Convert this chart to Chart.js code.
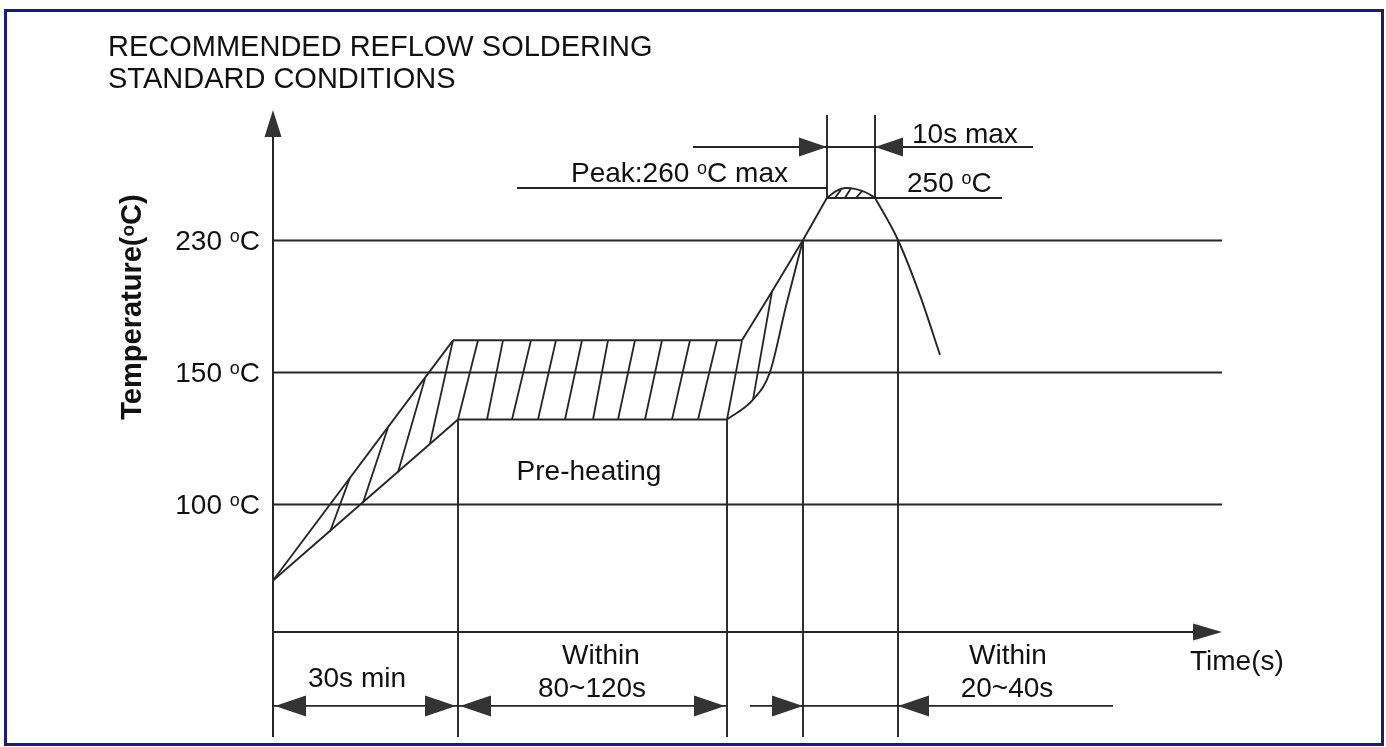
<!DOCTYPE html>
<html>
<head>
<meta charset="utf-8">
<title>Recommended reflow soldering profile</title>
<script src="https://cdn.jsdelivr.net/npm/chart.js@4.4.1/dist/chart.umd.min.js"></script>
<style>
  html, body { margin: 0; padding: 0; background: #fff; }
  #wrap { position: relative; width: 1386px; height: 747px; }
</style>
</head>
<body>
<div id="wrap"><canvas id="reflowChart"></canvas></div>
<script>
const ctx = document.getElementById('reflowChart').getContext('2d');

// the temperature axis is schematic: one level per labelled temperature
const tickLevels = [1, 2, 3];
const tickLabels = ['100 °C', '150 °C', '230 °C'];

// profile outline as [time, level]
const rampUpper = [[0, 0.42], [36, 2.24]];
const rampLower = [[0, 0.42], [37, 1.64]];
const soakUpper = [[36, 2.24], [93.8, 2.24]];
const soakLower = [[37, 1.64], [90.8, 1.64]];
const riseUpper = [[93.8, 2.24], [99.8, 2.61], [106, 3], [110.8, 3.32]];
const riseLower = [[90.8, 1.64], [96, 1.79], [99.4, 2.0], [102.6, 2.5], [106, 3]];
const peakCap = [[110.8, 3.32], [112.6, 3.37], [114.6, 3.394], [116.6, 3.385], [118.6, 3.36], [120.4, 3.32]];
const cooling = [[120.4, 3.32], [125, 3], [129.4, 2.58], [133.4, 2.13]];

// hatching inside the window, [x1, y1, x2, y2]
const hatchRamp = [[11.4, 0.79, 15.4, 1.2], [18, 1.01, 23, 1.58], [25, 1.24, 30.4, 1.95], [31.4, 1.46, 36, 2.24]];
const hatchSoakBottom = [37, 42.8, 47.8, 53, 58.4, 64, 69, 74.4, 79.8, 85, 90.8];
const hatchSoakTop = [41, 46, 51.6, 56.6, 61.8, 67, 72.4, 77.8, 83.4, 88.8, 93.8];
const hatchRise = [[96, 1.79, 99.8, 2.61]];
const hatchPeak = [[112.4, 3.32, 113.6, 3.38], [114.4, 3.32, 115.6, 3.392], [116.6, 3.32, 117.8, 3.37]];

// guide and dimension lines
const guides = [[37, 1.64, 37, -0.765], [90.8, 1.64, 90.8, -0.765], [106, 3, 106, -0.765], [125, 3, 125, -0.765],
  [110.8, 3.32, 110.8, 3.947], [120.4, 3.32, 120.4, 3.947]];
const refLines = [[48.8, 3.394, 110.8, 3.394], [110.8, 3.318, 145.8, 3.318]];
const dimLines = [[84, 3.705, 152, 3.705], [0, -0.53, 37, -0.53], [37, -0.53, 90.8, -0.53], [95.4, -0.53, 168, -0.53]];

const arrowTips = [
  { x: 110.8, y: 3.705, dir: 1 }, { x: 120.4, y: 3.705, dir: -1 },
  { x: 0.4, y: -0.53, dir: -1 }, { x: 36.6, y: -0.53, dir: 1 },
  { x: 37.4, y: -0.53, dir: -1 }, { x: 90.4, y: -0.53, dir: 1 },
  { x: 106, y: -0.53, dir: 1 }, { x: 125, y: -0.53, dir: -1 }
];

const notes = [
  { text: 'Pre-heating', x: 63.2, y: 1.26, align: 'center' },
  { text: '30s min', x: 16.8, y: -0.31, align: 'center' },
  { text: 'Within', x: 65.6, y: -0.14, align: 'center' },
  { text: '80~120s', x: 63.8, y: -0.39, align: 'center' },
  { text: 'Within', x: 147, y: -0.14, align: 'center' },
  { text: '20~40s', x: 146.8, y: -0.39, align: 'center' },
  { text: 'Time(s)', x: 183.4, y: -0.18, align: 'left' },
  { text: 'Peak:260 °C max', x: 103, y: 3.515, align: 'right' },
  { text: '10s max', x: 127.8, y: 3.81, align: 'left' },
  { text: '250 °C', x: 126.8, y: 3.44, align: 'left' }
];

const FONT = '"Liberation Sans", Arial, sans-serif';
const INK = '#262626';

const pts = arr => arr.map(p => ({ x: p[0], y: p[1] }));
// several separate segments in one dataset, broken by a null point
function segs(list) {
  const out = [];
  list.forEach(s => out.push({ x: s[0], y: s[1] }, { x: s[2], y: s[3] }, { x: s[2], y: null }));
  return out;
}
const soakHatch = hatchSoakBottom.map((b, i) => [b, 1.64, hatchSoakTop[i], 2.24]);

function lineSet(data, extra) {
  return Object.assign({ data: data, borderColor: INK, borderWidth: 1.9, pointRadius: 0, fill: false, tension: 0, clip: false }, extra || {});
}

// text with the small raised "o" used for degrees
function richText(c, str, px, py, align, size, bold) {
  const w = bold ? 'bold ' : '';
  const main = w + size + 'px ' + FONT;
  const sup = w + Math.round(size * 0.64) + 'px ' + FONT;
  const parts = str.split('°');
  c.font = main;
  let total = c.measureText(parts[0]).width;
  let supW = 0;
  if (parts.length > 1) {
    c.font = sup; supW = c.measureText('o').width;
    c.font = main; total += supW + c.measureText(parts[1]).width;
  }
  let sx = align === 'center' ? px - total / 2 : align === 'right' ? px - total : px;
  const base = py + size * 0.358;
  c.textAlign = 'left';
  c.textBaseline = 'alphabetic';
  c.font = main;
  c.fillText(parts[0], sx, base);
  if (parts.length > 1) {
    sx += c.measureText(parts[0]).width;
    c.font = sup;
    c.fillText('o', sx, base - size * 0.27);
    sx += supW;
    c.font = main;
    c.fillText(parts[1], sx, base);
  }
}

function seg(c, x1, y1, x2, y2) {
  c.beginPath(); c.moveTo(x1, y1); c.lineTo(x2, y2); c.stroke();
}

function head(c, tx, ty, dx, dy, len, half) {
  c.beginPath();
  c.moveTo(tx, ty);
  c.lineTo(tx - dx * len - dy * half, ty - dy * len + dx * half);
  c.lineTo(tx - dx * len + dy * half, ty - dy * len - dx * half);
  c.closePath();
  c.fill();
}

const drawing = {
  id: 'drawing',
  beforeDatasetsDraw(chart) {
    const { ctx: c, chartArea: a, scales: { y } } = chart;
    c.save();
    c.strokeStyle = INK;
    c.lineWidth = 1.9;
    tickLevels.forEach(v => {
      const py = Math.round(y.getPixelForValue(v)) + 0.5;
      seg(c, a.left, py, a.right, py);
    });
    c.restore();
  },
  afterDraw(chart) {
    const { ctx: c, chartArea: a, scales: { x, y } } = chart;
    c.save();
    c.strokeStyle = INK;
    c.fillStyle = '#333';
    c.lineWidth = 2;
    const x0 = x.getPixelForValue(0);
    // axes with arrows
    seg(c, x0, y.getPixelForValue(-0.765), x0, a.top + 20);
    head(c, x0, a.top, 0, -1, 27, 8.5);
    seg(c, a.left, a.bottom, a.right - 20, a.bottom);
    head(c, a.right, a.bottom, 1, 0, 29, 8.5);
    // dimension arrowheads
    arrowTips.forEach(t => {
      const top = t.y > 3;
      head(c, x.getPixelForValue(t.x), y.getPixelForValue(t.y), t.dir, 0, top ? 28 : 31, top ? 9.5 : 10.5);
    });
    // text
    c.fillStyle = '#111';
    tickLabels.forEach((s, i) => richText(c, s, x0 - 13, y.getPixelForValue(tickLevels[i]), 'right', 28, false));
    notes.forEach(n => richText(c, n.text, x.getPixelForValue(n.x), y.getPixelForValue(n.y), n.align, 28, false));
    richText(c, 'RECOMMENDED REFLOW SOLDERING', 108, 46, 'left', 29, false);
    richText(c, 'STANDARD CONDITIONS', 108, 78, 'left', 29, false);
    c.save();
    c.translate(131, 307);
    c.rotate(-Math.PI / 2);
    richText(c, 'Temperature(°C)', 0, 0, 'center', 29, true);
    c.restore();
    // frame
    c.strokeStyle = '#1c1c78';
    c.lineWidth = 3;
    c.strokeRect(5.5, 10.5, 1377, 734);
    c.restore();
  }
};

new Chart(ctx, {
  type: 'line',
  data: {
    datasets: [
      lineSet(pts(rampUpper)),
      lineSet(pts(rampLower)),
      lineSet(pts(soakUpper)),
      lineSet(pts(soakLower)),
      lineSet(pts(riseUpper)),
      lineSet(pts(riseLower), { cubicInterpolationMode: 'monotone' }),
      lineSet(pts(peakCap), { cubicInterpolationMode: 'monotone' }),
      lineSet(pts(cooling), { cubicInterpolationMode: 'monotone' }),
      lineSet(segs(hatchRamp.concat(soakHatch, hatchRise, hatchPeak)), { borderWidth: 1.8 }),
      lineSet(segs(guides)),
      lineSet(segs(refLines)),
      lineSet(segs(dimLines))
    ]
  },
  options: {
    responsive: true,
    maintainAspectRatio: false,
    animation: false,
    events: [],
    layout: { padding: { left: 273, right: 164, top: 110, bottom: 115 } },
    scales: {
      x: { type: 'linear', min: 0, max: 189.8, display: false },
      y: { type: 'linear', min: 0.03, max: 3.985, display: false }
    },
    plugins: { legend: { display: false }, tooltip: { enabled: false } }
  },
  plugins: [drawing]
});
</script>
</body>
</html>
